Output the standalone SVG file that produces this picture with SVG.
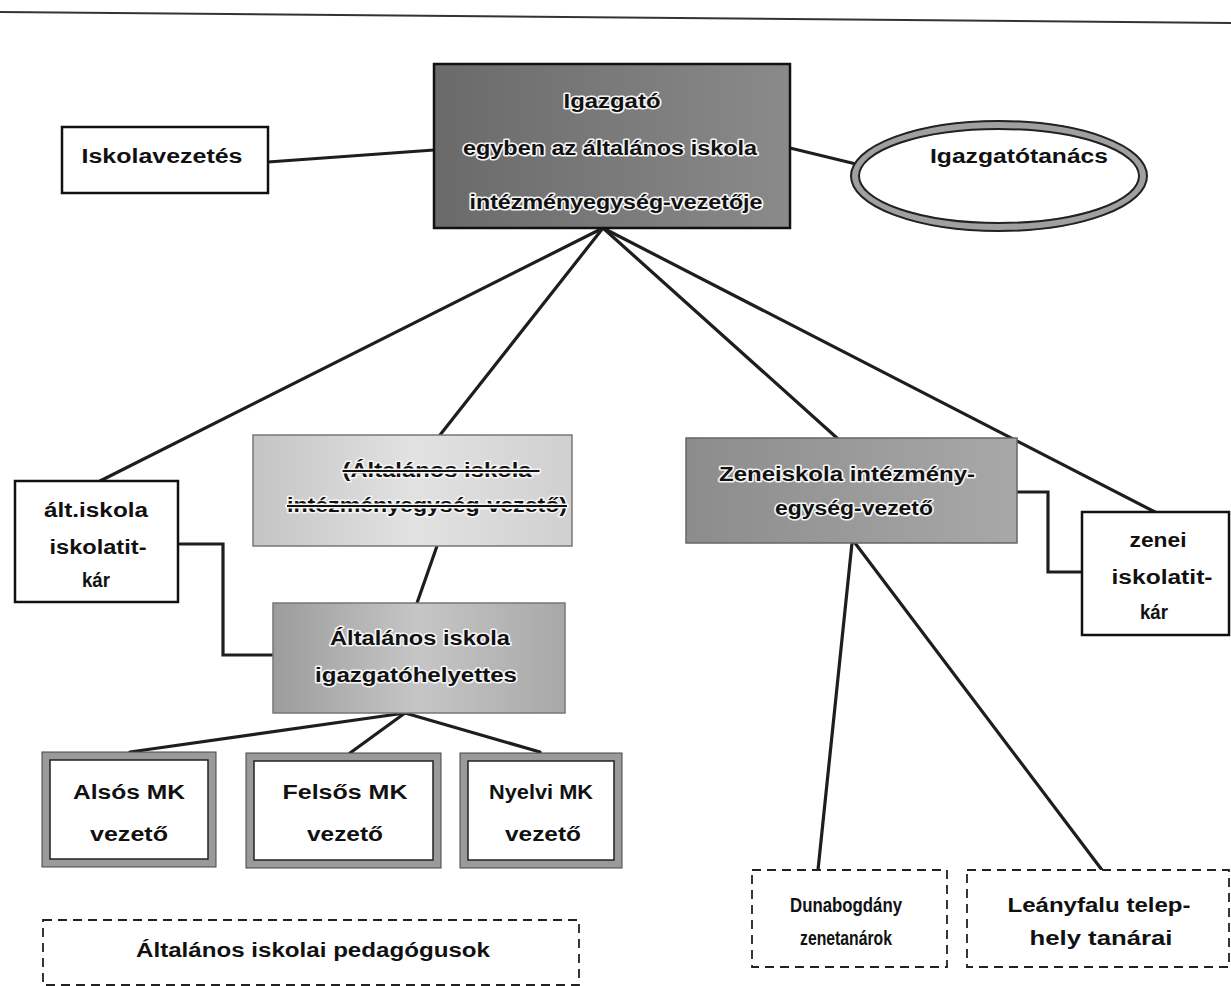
<svg xmlns="http://www.w3.org/2000/svg" width="1231" height="986" viewBox="0 0 1231 986">
<defs>
<linearGradient id="gTop" x1="0" y1="0" x2="1" y2="0"><stop offset="0" stop-color="#6a6a6a"/><stop offset="1" stop-color="#8a8a8a"/></linearGradient>
<linearGradient id="gMid" x1="0" y1="0" x2="1" y2="0"><stop offset="0" stop-color="#c4c4c4"/><stop offset="0.5" stop-color="#e2e2e2"/><stop offset="1" stop-color="#d0d0d0"/></linearGradient>
<linearGradient id="gHely" x1="0" y1="0" x2="1" y2="0"><stop offset="0" stop-color="#9c9c9c"/><stop offset="0.5" stop-color="#c6c6c6"/><stop offset="1" stop-color="#a8a8a8"/></linearGradient>
<linearGradient id="gZene" x1="0" y1="0" x2="1" y2="0"><stop offset="0" stop-color="#8c8c8c"/><stop offset="1" stop-color="#a8a8a8"/></linearGradient>
</defs>
<style>
.t{font-family:"Liberation Sans",Arial,sans-serif;font-size:20px;font-weight:bold;fill:#111;text-anchor:middle;}
.h{stroke:#f4f4f4;stroke-width:3px;paint-order:stroke;stroke-linejoin:round;}
.box{stroke:#111;stroke-width:2.5;}
.wbox{fill:#fff;stroke:#111;stroke-width:2.5;}
.dash{fill:#fff;stroke:#222;stroke-width:1.8;stroke-dasharray:9 6;}
.mkout{fill:#9a9a9a;stroke:#444;stroke-width:1;}
.mkin{fill:#fff;stroke:#222;stroke-width:1.5;}
.ln{stroke:#1e1e1e;stroke-width:3.2;fill:none;stroke-linecap:round;}
.el{stroke:#222;stroke-width:2;fill:none;}
</style>
<line x1="0" y1="12" x2="1231" y2="23" stroke="#333" stroke-width="2"/>
<g id="connectors">
<line class="ln" x1="268" y1="162" x2="434" y2="150"/>
<line class="ln" x1="790" y1="148" x2="856" y2="164"/>
<line class="ln" x1="603" y1="228" x2="100" y2="481"/>
<line class="ln" x1="603" y1="228" x2="440" y2="435"/>
<line class="ln" x1="603" y1="228" x2="837" y2="438"/>
<line class="ln" x1="603" y1="228" x2="1155" y2="512"/>
<line class="ln" x1="437" y1="546" x2="417" y2="603"/>
<polyline class="ln" points="178,544 223,544 223,655 273,655"/>
<polyline class="ln" points="1017,492 1048,492 1048,572 1082,572"/>
<line class="ln" x1="405" y1="713" x2="130" y2="752"/>
<line class="ln" x1="405" y1="713" x2="350" y2="753"/>
<line class="ln" x1="405" y1="713" x2="540" y2="752"/>
<line class="ln" x1="852" y1="543" x2="818" y2="870"/>
<line class="ln" x1="855" y1="543" x2="1102" y2="870"/>
</g>
<g id="igazgato">
<rect class="box" x="434" y="64" width="356" height="164" fill="url(#gTop)"/>
<text class="t h" x="612" y="108" textLength="97" lengthAdjust="spacingAndGlyphs">Igazgató</text>
<text class="t h" x="610" y="155" textLength="294" lengthAdjust="spacingAndGlyphs">egyben az általános iskola</text>
<text class="t h" x="616" y="209" textLength="293" lengthAdjust="spacingAndGlyphs">intézményegység-vezetője</text>
</g>
<g id="iskolavezetes">
<rect class="wbox" x="62" y="127" width="206" height="66"/>
<text class="t" x="162" y="163" textLength="161" lengthAdjust="spacingAndGlyphs">Iskolavezetés</text>
</g>
<g id="igazgatotanacs">
<ellipse cx="999" cy="176" rx="144" ry="51" fill="#fff" stroke="#a0a0a0" stroke-width="9"/>
<ellipse class="el" cx="999" cy="176" rx="148" ry="55"/>
<ellipse class="el" cx="999" cy="176" rx="140" ry="47"/>
<text class="t" x="1019" y="163" textLength="178" lengthAdjust="spacingAndGlyphs">Igazgatótanács</text>
</g>
<g id="alt-titkar">
<rect class="wbox" x="15" y="481" width="163" height="121"/>
<text class="t" x="96" y="517" textLength="104" lengthAdjust="spacingAndGlyphs">ált.iskola</text>
<text class="t" x="98" y="554" textLength="97" lengthAdjust="spacingAndGlyphs">iskolatit-</text>
<text class="t" x="96" y="587" textLength="28" lengthAdjust="spacingAndGlyphs">kár</text>
</g>
<g id="altalanos-vezeto">
<rect x="253" y="435" width="319" height="111" fill="url(#gMid)" stroke="#777" stroke-width="1.5"/>
<text class="t h" x="441" y="477" textLength="197" lengthAdjust="spacingAndGlyphs" text-decoration="line-through">(Általános iskola-</text>
<text class="t h" x="427" y="512" textLength="280" lengthAdjust="spacingAndGlyphs" text-decoration="line-through">intézményegység-vezető)</text>
</g>
<g id="igazgatohelyettes">
<rect x="273" y="603" width="292" height="110" fill="url(#gHely)" stroke="#777" stroke-width="1.5"/>
<text class="t h" x="420" y="645" textLength="180" lengthAdjust="spacingAndGlyphs">Általános iskola</text>
<text class="t h" x="416" y="682" textLength="202" lengthAdjust="spacingAndGlyphs">igazgatóhelyettes</text>
</g>
<g id="zeneiskola">
<rect x="686" y="438" width="331" height="105" fill="url(#gZene)" stroke="#666" stroke-width="1.5"/>
<text class="t h" x="847" y="481" textLength="256" lengthAdjust="spacingAndGlyphs">Zeneiskola intézmény-</text>
<text class="t h" x="854" y="515" textLength="158" lengthAdjust="spacingAndGlyphs">egység-vezető</text>
</g>
<g id="zenei-titkar">
<rect class="wbox" x="1082" y="512" width="147" height="123"/>
<text class="t" x="1158" y="547" textLength="57" lengthAdjust="spacingAndGlyphs">zenei</text>
<text class="t" x="1162" y="584" textLength="101" lengthAdjust="spacingAndGlyphs">iskolatit-</text>
<text class="t" x="1154" y="619" textLength="28" lengthAdjust="spacingAndGlyphs">kár</text>
</g>
<g id="also">
<rect class="mkout" x="42" y="752" width="174" height="115"/>
<rect class="mkin" x="50" y="760" width="158" height="99"/>
<text class="t" x="129" y="799" textLength="112" lengthAdjust="spacingAndGlyphs">Alsós MK</text>
<text class="t" x="129" y="841" textLength="78" lengthAdjust="spacingAndGlyphs">vezető</text>
</g>
<g id="felso">
<rect class="mkout" x="246" y="753" width="195" height="115"/>
<rect class="mkin" x="254" y="761" width="179" height="99"/>
<text class="t" x="345" y="799" textLength="125" lengthAdjust="spacingAndGlyphs">Felsős MK</text>
<text class="t" x="345" y="841" textLength="76" lengthAdjust="spacingAndGlyphs">vezető</text>
</g>
<g id="nyelvi">
<rect class="mkout" x="460" y="753" width="162" height="115"/>
<rect class="mkin" x="468" y="761" width="146" height="99"/>
<text class="t" x="541" y="799" textLength="104" lengthAdjust="spacingAndGlyphs">Nyelvi MK</text>
<text class="t" x="543" y="841" textLength="76" lengthAdjust="spacingAndGlyphs">vezető</text>
</g>
<g id="pedagogusok">
<rect class="dash" x="43" y="920" width="536" height="65"/>
<text class="t" x="313" y="957" textLength="354" lengthAdjust="spacingAndGlyphs">Általános iskolai pedagógusok</text>
</g>
<g id="dunabogdany">
<rect class="dash" x="752" y="870" width="195" height="97"/>
<text class="t" x="846" y="912" textLength="112" lengthAdjust="spacingAndGlyphs">Dunabogdány</text>
<text class="t" x="846" y="945" textLength="92" lengthAdjust="spacingAndGlyphs">zenetanárok</text>
</g>
<g id="leanyfalu">
<rect class="dash" x="967" y="870" width="262" height="97"/>
<text class="t" x="1099" y="912" textLength="183" lengthAdjust="spacingAndGlyphs">Leányfalu telep-</text>
<text class="t" x="1101" y="945" textLength="143" lengthAdjust="spacingAndGlyphs">hely tanárai</text>
</g>
</svg>
